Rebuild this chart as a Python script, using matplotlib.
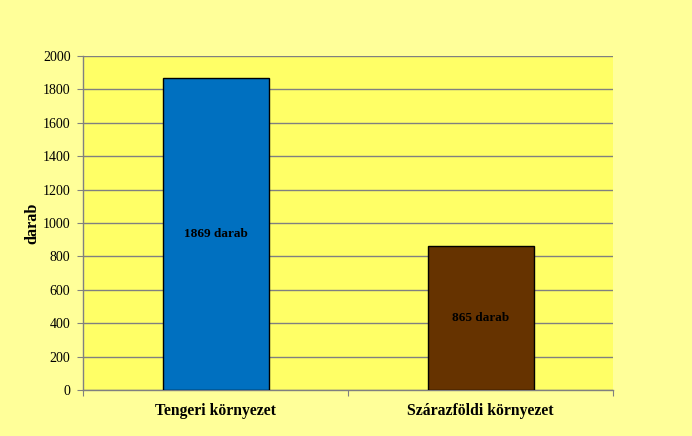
import matplotlib
matplotlib.use("Agg")
import matplotlib.pyplot as plt
import numpy as np

categories = ["Tengeri környezet", "Szárazföldi környezet"]
values = [1869, 865]
bar_labels = ["1869 darab", "865 darab"]
bar_colors = ["#0070C0", "#663300"]
yticks = list(range(0, 2001, 200))

plt.rcParams['font.family'] = ['Liberation Serif', 'DejaVu Serif']

fig = plt.figure(figsize=(6.92, 4.36), dpi=100, facecolor="#FFFF99")
ax = fig.add_axes([83/692, 46/436, 530/692, 334/436])
ax.set_facecolor("#FFFF66")

x = np.arange(len(categories))
bars = ax.bar(x, values, width=0.4, color=bar_colors, edgecolor="black", linewidth=1.0, zorder=3)
for b, lab in zip(bars, bar_labels):
    ax.text(b.get_x() + b.get_width()/2, b.get_height()/2, lab, ha="center", va="center",
            fontsize=9.5, fontweight="bold", color="black", zorder=4)

ax.set_xlim(-0.5, 1.5)
ax.set_ylim(0, 2000)
ax.set_yticks(yticks)
ax.set_yticklabels([str(t) for t in yticks], fontsize=10)
ax.yaxis.grid(True, color="#808080", linewidth=1.0, zorder=0)
ax.set_axisbelow(True)

ax.set_xticks([-0.5, 0.5, 1.5])
ax.set_xticklabels([])
ax.set_xticks(x, minor=True)
ax.set_xticklabels(categories, minor=True, fontsize=11.3, fontweight="bold")
ax.tick_params(axis="x", which="minor", length=0, pad=9.5)
ax.tick_params(axis="x", which="major", length=4, color="#808080", direction="out")
ax.tick_params(axis="y", length=4, color="#808080", direction="out", pad=5)

for side in ["top", "right"]:
    ax.spines[side].set_visible(False)
for side in ["left", "bottom"]:
    ax.spines[side].set_color("#808080")
    ax.spines[side].set_linewidth(1.0)

ax.set_ylabel("darab", fontsize=11.7, fontweight="bold", labelpad=1.5)

fig.savefig("out.png", dpi=100, facecolor=fig.get_facecolor())
